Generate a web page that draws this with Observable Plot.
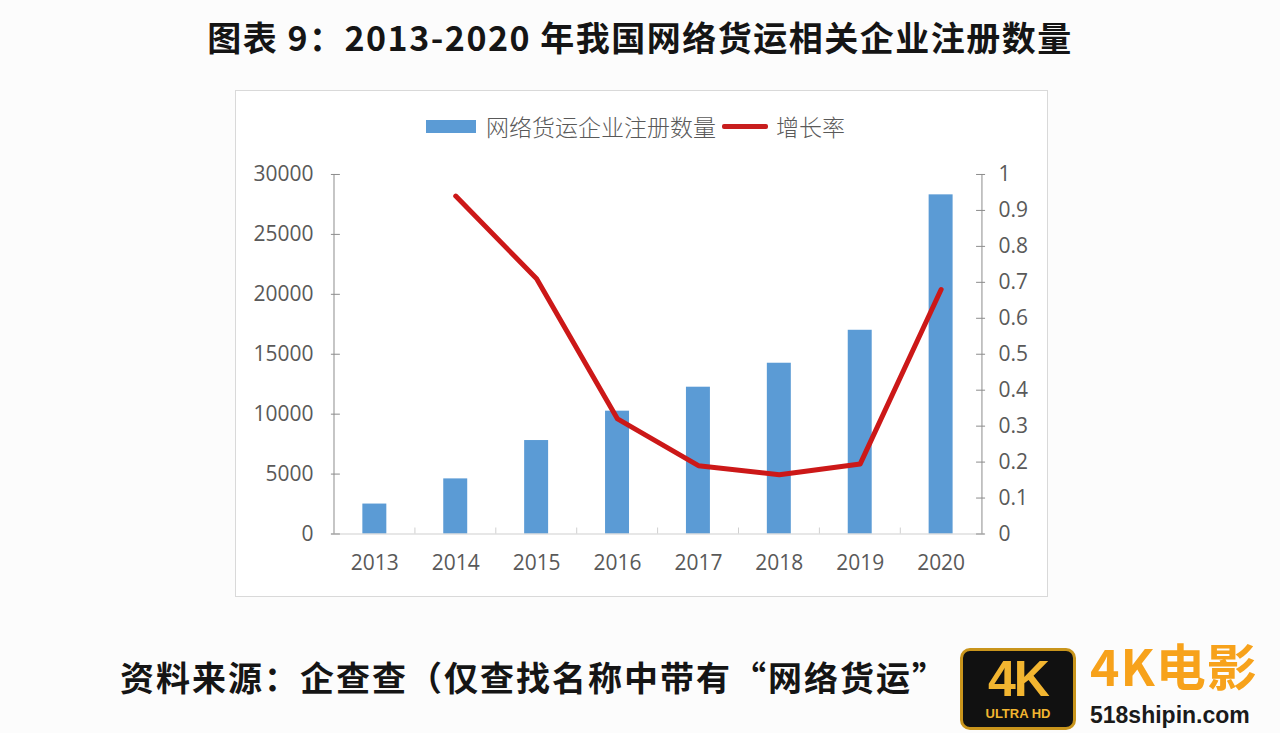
<!DOCTYPE html>
<html><head><meta charset="utf-8">
<script src="https://cdn.jsdelivr.net/npm/d3@7"></script>
<script src="https://cdn.jsdelivr.net/npm/@observablehq/plot@0.6"></script>
<style>
body{margin:0;background:#fcfcfc;width:1280px;height:733px;overflow:hidden;position:relative;font-family:"Noto Sans CJK SC",sans-serif;}
#title{position:absolute;left:0;width:1280px;top:12px;text-align:center;font-size:34px;font-weight:700;color:#151515;white-space:nowrap;letter-spacing:1.5px;}
#box{position:absolute;left:235px;top:90px;width:811px;height:505px;border:1px solid #d9d9d9;background:#fff;}
#legend{position:absolute;left:0;top:18px;width:811px;display:flex;justify-content:center;align-items:center;font-size:23px;color:#595959;font-weight:300;}
#legend .sw{width:50px;height:13px;background:#5b9bd5;margin:0 10px 0 -12px;}
#legend .ln{width:46px;height:5px;background:#c81e1e;margin:0 8px 0 6px;border-radius:2px;}
#chart{position:absolute;left:0;top:60px;}
#caption{position:absolute;left:120px;top:652px;font-size:34px;font-weight:700;color:#151515;white-space:nowrap;letter-spacing:2px;}
#wm4k{position:absolute;left:960px;top:648px;width:110px;height:76px;background:#111;border:3px solid #c9951c;border-radius:10px;font-family:"Liberation Sans",sans-serif;}
#wm4k .big{position:absolute;left:0;width:110px;top:4px;text-align:center;font-size:50px;font-weight:900;color:#f2b530;line-height:48px;letter-spacing:-2px;}
#wm4k .small{position:absolute;left:0;width:110px;top:56px;text-align:center;font-size:13px;font-weight:700;color:#f2b530;line-height:14px;}
#wmtxt{position:absolute;left:1090px;top:639px;font-size:50px;font-weight:700;color:#f7a21b;font-family:"Noto Sans CJK SC",sans-serif;line-height:50px;letter-spacing:1px;}
#wmurl{position:absolute;left:1090px;top:703px;font-size:23px;font-weight:700;color:#1a1a1a;font-family:"Liberation Sans",sans-serif;line-height:24px;}
</style>
</head><body>
<div id="title">图表 9：2013-2020 年我国网络货运相关企业注册数量</div>
<div id="box">
  <div id="legend"><div class="sw"></div><span>网络货运企业注册数量</span><div class="ln"></div><span>增长率</span></div>
  <div id="chart"></div>
</div>
<div id="caption">资料来源：企查查（仅查找名称中带有“网络货运”</div>
<div id="wm4k"><div class="big">4K</div><div class="small">ULTRA HD</div></div>
<div id="wmtxt">4K电影</div>
<div id="wmurl">518shipin.com</div>
<script>
const years = ["2013","2014","2015","2016","2017","2018","2019","2020"];
const counts = [2500, 4600, 7800, 10250, 12250, 14250, 17000, 28300];
const rates = [null, 0.94, 0.71, 0.32, 0.19, 0.165, 0.195, 0.68];
const leftTicks = [0, 5000, 10000, 15000, 20000, 25000, 30000];
const rightTicks = [0, 0.1, 0.2, 0.3, 0.4, 0.5, 0.6, 0.7, 0.8, 0.9, 1];

const yMax = 30000;
const data = years.map((y, i) => ({year: y, count: counts[i], rate: rates[i]}));
const W = 812, ML = 95, MR = 63;
const bw = (W - ML - MR) / years.length;

const chart = Plot.plot({
  width: W, height: 445,
  marginLeft: ML, marginRight: MR, marginTop: 23, marginBottom: 62,
  x: {domain: years, padding: 0, axis: null},
  y: {domain: [0, yMax], axis: null},
  style: {fontFamily: "Open Sans", fontSize: "21px", color: "#595959", background: "transparent"},
  marks: [
    Plot.barY(data, {x: "year", y: "count", fill: "#5b9bd5", insetLeft: 28.5, insetRight: 28.5}),
    Plot.ruleY([0], {stroke: "#d0d0d0", strokeWidth: 1.2}),
    Plot.ruleX(years.slice(1), {x: d => d, y1: 0, y2: 500, dx: -bw / 2, stroke: "#d0d0d0"}),
    Plot.ruleX([years[0]], {x: d => d, y1: 0, y2: yMax, dx: -bw / 2, stroke: "#8c8c8c"}),
    Plot.ruleX([years[years.length - 1]], {x: d => d, y1: 0, y2: yMax, dx: bw / 2, stroke: "#8c8c8c"}),
    Plot.line(data.filter(d => d.rate != null), {x: "year", y: d => d.rate * yMax, stroke: "#cc1818", strokeWidth: 5, strokeLinejoin: "round"}),
    Plot.axisY(leftTicks, {anchor: "left", label: null, tickSize: -9, tickPadding: 27, stroke: "#8c8c8c", tickFormat: d => String(d), fill: "#595959"}),
    Plot.axisY(rightTicks.map(t => t * yMax), {anchor: "right", label: null, tickSize: -9, tickPadding: 23, stroke: "#8c8c8c", tickFormat: d => String(+(d / yMax).toFixed(1)), fill: "#595959"}),
    Plot.axisX({label: null, tickSize: 0, tickPadding: 21, fill: "#595959"})
  ]
});
document.getElementById("chart").appendChild(chart);
</script>
</body></html>
